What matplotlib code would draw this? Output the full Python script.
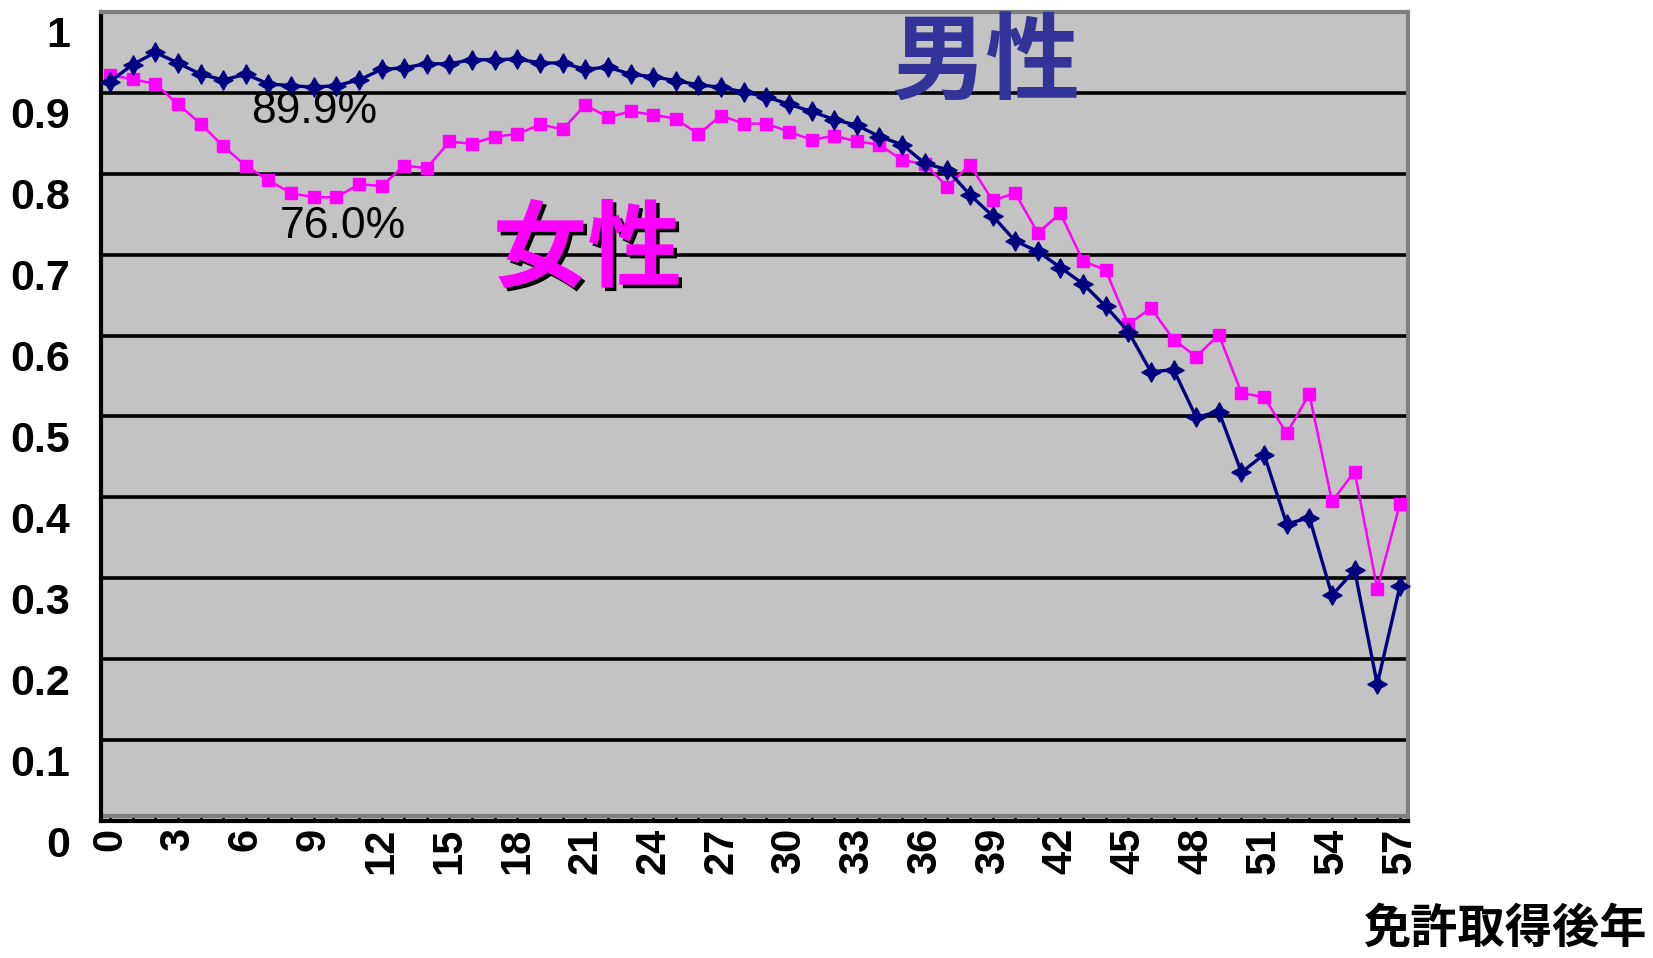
import numpy as np
import matplotlib
matplotlib.use("Agg")
import matplotlib.pyplot as plt
import matplotlib.transforms as mtransforms
import matplotlib.patheffects as pe
from matplotlib.lines import Line2D

years = list(range(0, 58))

male = [0.914, 0.935, 0.950, 0.937, 0.923, 0.916, 0.923, 0.911, 0.909, 0.907,
        0.909, 0.916, 0.929, 0.931, 0.936, 0.936, 0.941, 0.941, 0.942, 0.937,
        0.937, 0.929, 0.932, 0.923, 0.920, 0.915, 0.910, 0.907, 0.901, 0.895,
        0.886, 0.877, 0.867, 0.860, 0.846, 0.836, 0.813, 0.805, 0.774, 0.748,
        0.717, 0.704, 0.684, 0.664, 0.636, 0.605, 0.555, 0.558, 0.499, 0.506,
        0.431, 0.453, 0.367, 0.375, 0.279, 0.310, 0.169, 0.290]

female = [0.922, 0.917, 0.911, 0.886, 0.862, 0.834, 0.810, 0.792, 0.776, 0.771,
          0.771, 0.787, 0.785, 0.810, 0.807, 0.840, 0.837, 0.846, 0.849, 0.861,
          0.855, 0.885, 0.870, 0.877, 0.873, 0.868, 0.849, 0.872, 0.862, 0.862,
          0.852, 0.842, 0.847, 0.840, 0.836, 0.817, 0.812, 0.784, 0.811, 0.767,
          0.776, 0.727, 0.751, 0.692, 0.681, 0.614, 0.634, 0.595, 0.574, 0.601,
          0.529, 0.524, 0.479, 0.528, 0.395, 0.432, 0.287, 0.392]

ytick_vals = [0, 0.1, 0.2, 0.3, 0.4, 0.5, 0.6, 0.7, 0.8, 0.9, 1.0]
ytick_labels = ["0", "0.1", "0.2", "0.3", "0.4", "0.5", "0.6", "0.7", "0.8", "0.9", "1"]
xtick_vals = list(range(0, 58, 3))

sans = ["Liberation Sans", "DejaVu Sans"]
cjk = ["Noto Sans CJK JP", "DejaVu Sans"]

fig = plt.figure(figsize=(16.53, 9.58), dpi=100)
ax = fig.add_axes([0.0611, 0.143, 0.7907, 0.8445])
ax.set_facecolor("#c3c3c3")

ax.set_xlim(-0.4, 57.36)
ax.set_ylim(0, 1)

# grid
for v in ytick_vals[1:-1]:
    ax.axhline(v, color="black", lw=2.6, zorder=1)

ax.plot(years, female, color="#ff00ff", lw=1.8, marker="s", ms=8,
        mec="#ff00ff", mfc="#ff00ff", zorder=3, clip_on=False)
ax.plot(years, male, color="#000080", lw=2.4, marker=(4, 1, 0), ms=14,
        mec="#000080", mfc="#000080", zorder=4, clip_on=False)

# spines
for side in ["left", "bottom"]:
    ax.spines[side].set_color("black")
    ax.spines[side].set_linewidth(3)
for side in ["top", "right"]:
    ax.spines[side].set_color("#808080")
    ax.spines[side].set_linewidth(3)
ax.add_line(Line2D([0, 1], [0.006, 0.006], transform=ax.transAxes,
                   color="#808080", lw=3, zorder=2))

ax.set_yticks(ytick_vals)
ax.set_yticklabels(ytick_labels, family=sans, fontweight="bold", fontsize=31)
ax.tick_params(axis="y", length=0, pad=22)
offset = mtransforms.ScaledTranslation(0, -0.2, fig.dpi_scale_trans)
for lab in ax.get_yticklabels():
    lab.set_transform(lab.get_transform() + offset)

ax.set_xticks(xtick_vals)
ax.set_xticks(years, minor=True)
ax.set_xticklabels([str(v) for v in xtick_vals], family=sans,
                   fontweight="bold", fontsize=30, rotation=90)
ax.tick_params(axis="x", which="both", direction="in", length=5, width=2,
               color="black", pad=5)

ax.text(9.0, 0.877, "89.9%", family=sans,
        fontsize=32, ha="center", va="center", color="black", zorder=5)
ax.text(10.3, 0.735, "76.0%", family=sans,
        fontsize=32, ha="center", va="center", color="black", zorder=5)

ax.text(38.7, 0.936, "男性", family=cjk, fontweight="bold", fontsize=68,
        ha="center", va="center", color="#333399", zorder=5)
ax.text(21.1, 0.704, "女性", family=cjk, fontweight="bold", fontsize=68,
        ha="center", va="center", color="#ff00ff", zorder=5,
        path_effects=[pe.withSimplePatchShadow(offset=(2.5, -2.5),
                                               shadow_rgbFace="black", alpha=1)])

fig.text(0.996, 0.030, "免許取得後年", family=cjk, fontweight="bold",
         fontsize=34, ha="right", va="center", color="black")

fig.savefig("out.png", dpi=100, facecolor="white")
